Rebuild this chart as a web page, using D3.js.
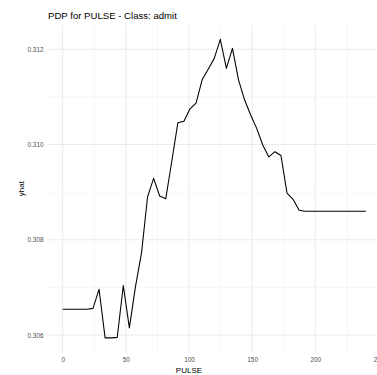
<!DOCTYPE html>
<html>
<head>
<meta charset="utf-8">
<script src="https://cdn.jsdelivr.net/npm/d3@7"></script>
<style>
  html, body { margin: 0; padding: 0; background: #ffffff; }
  svg { display: block; overflow: hidden; }
</style>
</head>
<body>
<div id="chart"></div>
<script>
// Partial dependence of predicted probability (class "admit") on PULSE
const pulse = [0, 4.8, 9.6, 14.4, 19.2, 24, 28.8, 33.6, 38.4, 43.2,
  48, 52.8, 57.6, 62.4, 67.2, 72, 76.8, 81.6, 86.4, 91.2,
  96, 100.8, 105.6, 110.4, 115.2, 120, 124.8, 129.6, 134.4, 139.2,
  144, 148.8, 153.6, 158.4, 163.2, 168, 172.8, 177.6, 182.4, 187.2,
  192, 196.8, 201.6, 206.4, 211.2, 216, 220.8, 225.6, 230.4, 235.2, 240];
const yhat = [0.30654, 0.30654, 0.30654, 0.30654, 0.30654, 0.30656, 0.30696, 0.30594, 0.30594, 0.30595,
  0.30704, 0.30615, 0.30701, 0.30772, 0.30890, 0.30929, 0.30892, 0.30886, 0.30965, 0.31046,
  0.31049, 0.31075, 0.31087, 0.31136, 0.31158, 0.31181, 0.31221, 0.31160, 0.31202, 0.31136,
  0.31094, 0.31062, 0.31034, 0.30999, 0.30974, 0.30985, 0.30977, 0.30898, 0.30885, 0.30862,
  0.30860, 0.30860, 0.30860, 0.30860, 0.30860, 0.30860, 0.30860, 0.30860, 0.30860, 0.30860, 0.30860];
const xTicks = [0, 50, 100, 150, 200, 250];
const xMinor = [25, 75, 125, 175, 225];
const yTicks = [0.306, 0.308, 0.310, 0.312];
const yMinor = [0.307, 0.309, 0.311];

const W = 377, H = 375;
const panel = { left: 47.5, right: 381, top: 24.4, bottom: 352.8 };

const svg = d3.select("#chart").append("svg")
  .attr("width", W).attr("height", H);

// 5% expansion on both axes, like a ggplot continuous scale
const xr = d3.extent(pulse), xe = (xr[1] - xr[0]) * 0.05;
const yr = d3.extent(yhat), ye = (yr[1] - yr[0]) * 0.05;

const x = d3.scaleLinear().domain([xr[0] - xe, xr[1] + xe]).range([panel.left, panel.right]);
const y = d3.scaleLinear().domain([yr[0] - ye, yr[1] + ye]).range([panel.bottom, panel.top]);

const grid = svg.append("g");
grid.selectAll(".vmin").data(xMinor).join("line")
  .attr("x1", d => x(d)).attr("x2", d => x(d))
  .attr("y1", panel.top).attr("y2", panel.bottom)
  .attr("stroke", "#f0f0f0").attr("stroke-width", 0.55);
grid.selectAll(".hmin").data(yMinor).join("line")
  .attr("y1", d => y(d)).attr("y2", d => y(d))
  .attr("x1", panel.left).attr("x2", panel.right)
  .attr("stroke", "#f0f0f0").attr("stroke-width", 0.55);
grid.selectAll(".vmaj").data(xTicks).join("line")
  .attr("x1", d => x(d)).attr("x2", d => x(d))
  .attr("y1", panel.top).attr("y2", panel.bottom)
  .attr("stroke", "#ebebeb").attr("stroke-width", 1.07);
grid.selectAll(".hmaj").data(yTicks).join("line")
  .attr("y1", d => y(d)).attr("y2", d => y(d))
  .attr("x1", panel.left).attr("x2", panel.right)
  .attr("stroke", "#ebebeb").attr("stroke-width", 1.07);

// axes: labels only, no domain lines or tick marks
const font = "'Liberation Sans', Arial, sans-serif";
const xAxis = svg.append("g")
  .attr("transform", `translate(0,${panel.bottom})`)
  .call(d3.axisBottom(x).tickValues(xTicks).tickSize(0).tickPadding(5)
    .tickFormat(d3.format("d")));
const yAxis = svg.append("g")
  .attr("transform", `translate(${panel.left},0)`)
  .call(d3.axisLeft(y).tickValues(yTicks).tickSize(0).tickPadding(4)
    .tickFormat(d3.format(".3f")));
[xAxis, yAxis].forEach(a => {
  a.select(".domain").remove();
  a.selectAll("text").attr("fill", "#4d4d4d").style("font-family", font).style("font-size", "6.4px");
});

const line = d3.line().x((d, i) => x(pulse[i])).y(d => y(d));
svg.append("path").datum(yhat)
  .attr("d", line)
  .attr("fill", "none")
  .attr("stroke", "#000000")
  .attr("stroke-width", 1.07)
  .attr("stroke-linejoin", "round");

svg.append("text")
  .attr("x", 48).attr("y", 18.5)
  .attr("fill", "#000")
  .style("font-family", font).style("font-size", "9.6px")
  .text("PDP for PULSE - Class: admit");

svg.append("text")
  .attr("x", x(100)).attr("y", 372.5)
  .attr("text-anchor", "middle")
  .attr("fill", "#000")
  .style("font-family", font).style("font-size", "8px")
  .text("PULSE");

svg.append("text")
  .attr("transform", `translate(23.5,${(panel.top + panel.bottom) / 2}) rotate(-90)`)
  .attr("text-anchor", "middle")
  .attr("fill", "#000")
  .style("font-family", font).style("font-size", "8px")
  .text("yhat");
</script>
</body>
</html>
